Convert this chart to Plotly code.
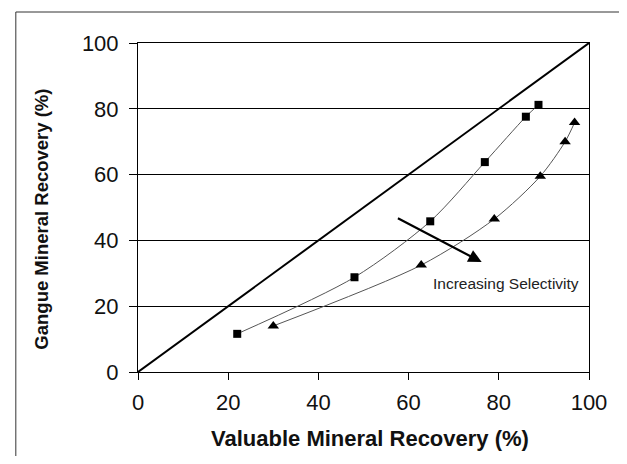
import plotly.graph_objects as go

# Data
sq_x = [22.0, 48.0, 64.8, 76.9, 86.0, 88.8]
sq_y = [11.6, 28.8, 45.8, 63.8, 77.6, 81.2]
tri_x = [30.0, 62.8, 79.0, 89.2, 94.7, 96.8]
tri_y = [14.0, 32.5, 46.5, 59.5, 70.0, 75.8]
diag_x = [0, 100]
diag_y = [0, 100]
arrow_start = (57.3, 47.0)
arrow_end = (76.2, 33.4)
x_ticks = [0, 20, 40, 60, 80, 100]
y_ticks = [0, 20, 40, 60, 80, 100]
annot_text = "Increasing Selectivity"
x_title = "Valuable Mineral Recovery (%)"
y_title = "Gangue Mineral Recovery (%)"

FONT = "Arial, Liberation Sans, sans-serif"

# page offset of plotly div (default body margin)
OFF = 8
PL, PR, PT, PB = 138, 592, 43, 372   # plot area in page pixels
W, H = 627 - 2 * OFF, 464 - 2 * OFF
pw, ph = PR - PL, PB - PT


def px_x(p):
    return (p - PL) / pw


def px_y(p):
    return (PB - p) / ph


fig = go.Figure()
fig.add_trace(go.Scatter(x=diag_x, y=diag_y, mode="lines",
                         line=dict(color="black", width=2), hoverinfo="skip"))
fig.add_trace(go.Scatter(x=sq_x, y=sq_y, mode="lines+markers",
                         line=dict(color="#555", width=1, shape="spline", smoothing=0.8),
                         marker=dict(symbol="square", size=8, color="black")))
fig.add_trace(go.Scatter(x=tri_x, y=tri_y, mode="lines+markers",
                         line=dict(color="#555", width=1, shape="spline", smoothing=0.8),
                         marker=dict(symbol="triangle-up", size=10, color="black")))

# Arrow
fig.add_annotation(x=arrow_end[0], y=arrow_end[1], ax=arrow_start[0], ay=arrow_start[1],
                   xref="x", yref="y", axref="x", ayref="y", text="",
                   showarrow=True, arrowhead=2, arrowsize=1.2, arrowwidth=2.2,
                   arrowcolor="black")
fig.add_annotation(x=65.0, y=27.0, xref="x", yref="y", text=annot_text,
                   showarrow=False, xanchor="left", yanchor="middle",
                   font=dict(family=FONT, size=15.5, color="#222"))

# Axis titles placed as annotations
fig.add_annotation(x=px_x(372), y=px_y(438), xref="paper", yref="paper",
                   text="<b>" + x_title + "</b>", showarrow=False,
                   xanchor="center", yanchor="middle",
                   font=dict(family=FONT, size=22, color="#111"))
fig.add_annotation(x=px_x(40), y=px_y(219), xref="paper", yref="paper",
                   text="<b>" + y_title + "</b>", showarrow=False, textangle=-90,
                   xanchor="center", yanchor="middle",
                   font=dict(family=FONT, size=18.5, color="#111"))

# Outer frame (page border)
fig.add_shape(type="rect", xref="paper", yref="paper",
              x0=px_x(15), x1=px_x(660),
              y0=px_y(500), y1=px_y(12),
              line=dict(color="#333", width=1), layer="below")

fig.update_layout(
    width=W, height=H,
    margin=dict(l=PL - OFF, r=W + OFF - PR, t=PT - OFF, b=H + OFF - PB, pad=0),
    paper_bgcolor="white", plot_bgcolor="white",
    showlegend=False,
    font=dict(family=FONT, color="#111"),
)
fig.update_xaxes(range=[0, 100], tickvals=x_ticks, ticks="outside", ticklen=7,
                 tickcolor="black", showline=True, linecolor="black", linewidth=1,
                 mirror=True, showgrid=False, zeroline=False,
                 tickfont=dict(size=22, family=FONT), ticklabelstandoff=4)
fig.update_yaxes(range=[0, 100], tickvals=y_ticks, ticks="outside", ticklen=8,
                 tickcolor="black", showline=True, linecolor="black", linewidth=1,
                 mirror=True, showgrid=True, gridcolor="black", gridwidth=1,
                 zeroline=False,
                 tickfont=dict(size=22, family=FONT), ticklabelstandoff=6)

fig.write_html("out.html")
